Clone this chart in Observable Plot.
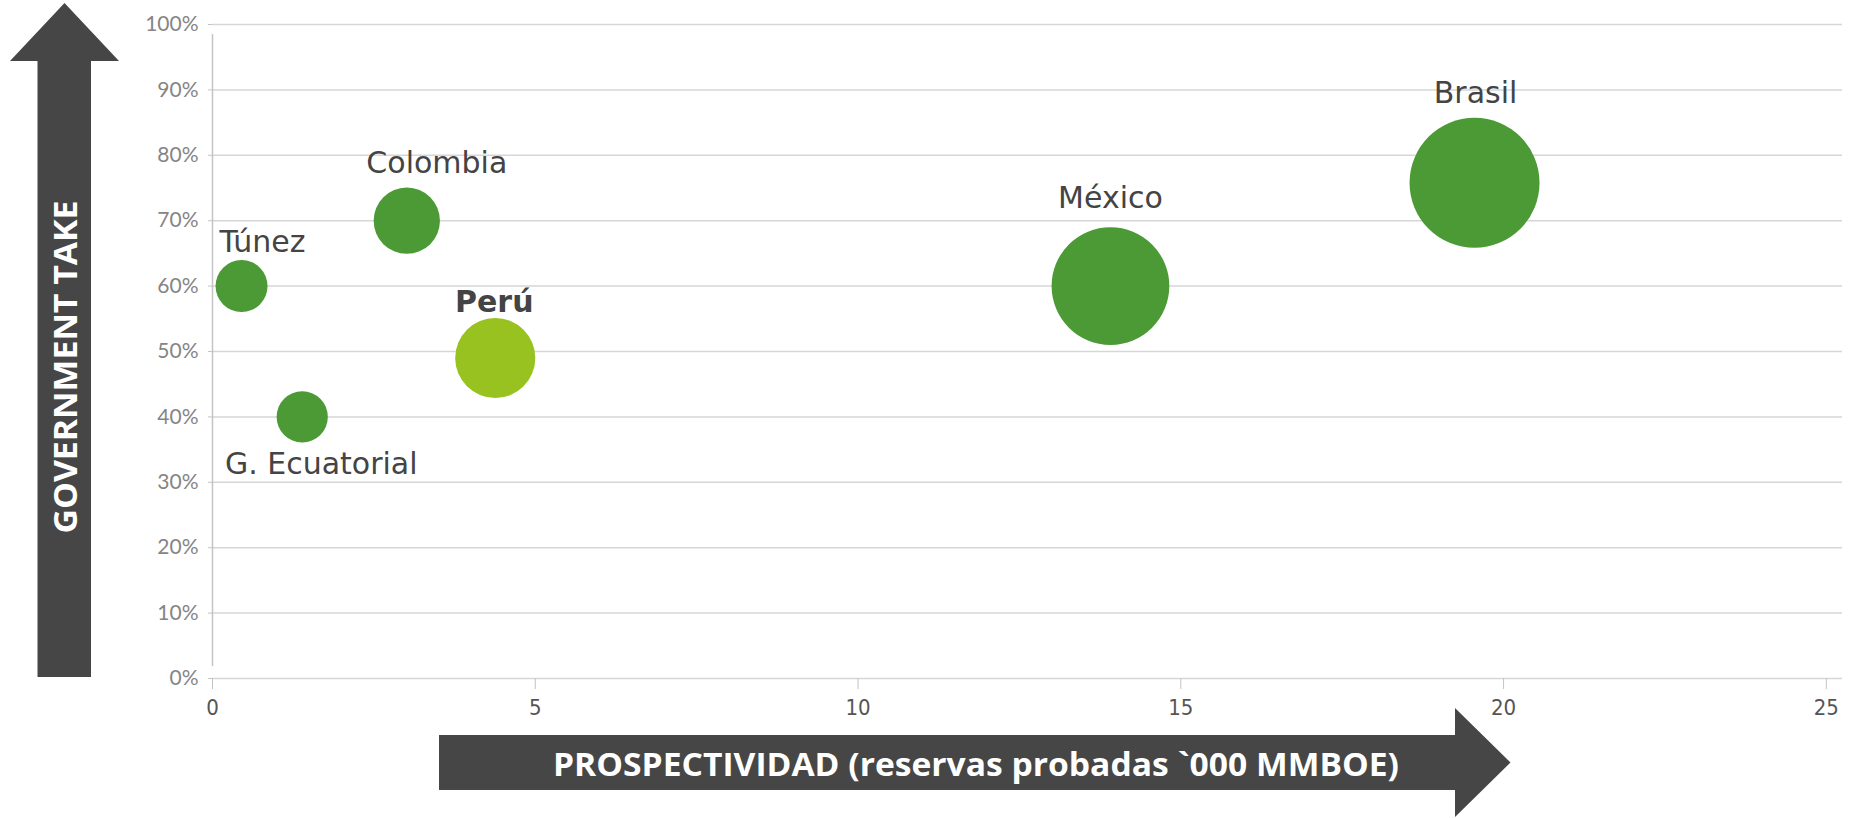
<!DOCTYPE html>
<html>
<head>
<meta charset="utf-8">
<script src="https://cdn.jsdelivr.net/npm/d3@7"></script>
<script src="https://cdn.jsdelivr.net/npm/@observablehq/plot@0.6"></script>
<style>
  html, body { margin: 0; padding: 0; background: #ffffff; }
  #chart { width: 1851px; height: 818px; overflow: hidden; }
  #chart svg { display: block; overflow: visible; }
</style>
</head>
<body>
<div id="chart"></div>
<script>
// ---- data ----
const countries = ["Túnez", "G. Ecuatorial", "Colombia", "Perú", "México", "Brasil"];
const reserves = [0.45, 1.39, 3.01, 4.38, 13.91, 19.55];        // x: reservas probadas ('000 MMBOE)
const governmentTake = [0.60, 0.40, 0.70, 0.49, 0.60, 0.758];   // y: government take
const bubbleSize = [1.6, 1.55, 2.6, 3.8, 8.2, 10];              // relative bubble size
const highlight = ["no", "no", "no", "sí", "no", "no"];
const xTicks = [0, 5, 10, 15, 20, 25];
const yTicks = [0, 0.1, 0.2, 0.3, 0.4, 0.5, 0.6, 0.7, 0.8, 0.9, 1.0];
const xTitle = "PROSPECTIVIDAD (reservas probadas `000 MMBOE)";
const yTitle = "GOVERNMENT TAKE";

const rows = countries.map((name, i) => ({
  name, x: reserves[i], y: governmentTake[i], size: bubbleSize[i], hl: highlight[i]
}));

// label placement (pixel offsets from bubble centre)
const labelOffset = {
  "Túnez": [21, -44], "G. Ecuatorial": [19, 47], "Colombia": [30, -57],
  "Perú": [-1, -56], "México": [0, -88], "Brasil": [1, -89]
};

const GREEN = "#4b9a35", LIME = "#98c21f", GRID = "#d6d6d6", AXIS = "#c4c4c4";

const labelMarks = rows.map(d => Plot.text([d], {
  x: "x", y: "y", text: "name",
  dx: labelOffset[d.name][0], dy: labelOffset[d.name][1],
  fontSize: 30, fontFamily: "DejaVu Sans",
  fontWeight: d.hl === "sí" ? "bold" : "normal",
  fill: "#444444"
}));

const chart = Plot.plot({
  width: 1851, height: 818,
  marginLeft: 212, marginRight: 9, marginTop: 24, marginBottom: 140,
  style: { background: "#ffffff", overflow: "visible" },
  x: { domain: [0, 25.25] },
  y: { domain: [0, 1] },
  r: { type: "sqrt", domain: [0, 10], range: [0, 65] },
  color: { domain: ["no", "sí"], range: [GREEN, LIME] },
  marks: [
    Plot.gridY(yTicks, { stroke: GRID, strokeOpacity: 1, strokeWidth: 1.5 }),
    Plot.ruleX([0], { y1: 0, y2: 1, insetTop: -12, insetBottom: -10, stroke: AXIS, strokeWidth: 1.5 }),
    Plot.axisY(yTicks, {
      tickFormat: d3.format(".0%"), tickSize: 4, tickPadding: 10,
      stroke: AXIS, fill: "#858585", fontSize: 21, fontFamily: "Lato, sans-serif", label: null
    }),
    Plot.axisX(xTicks, {
      tickSize: 11, tickPadding: 10,
      stroke: AXIS, fill: "#555555", fontSize: 22,
      fontFamily: "'DejaVu Sans Condensed', 'Liberation Sans Narrow', sans-serif", label: null
    }),
    Plot.dot(rows, { x: "x", y: "y", r: "size", fill: "hl", stroke: "none" }),
    ...labelMarks
  ]
});

document.getElementById("chart").appendChild(chart);

// ---- decorative axis arrows ----
const svg = d3.select(chart);
const ARROW = "#464646";
const arrows = svg.append("g").attr("class", "arrows");

// vertical arrow (Government take)
arrows.append("path")
  .attr("d", "M37.5,677 L37.5,61 L10,61 L64.5,3 L119,61 L91,61 L91,677 Z")
  .attr("fill", ARROW);
arrows.append("text")
  .attr("transform", "translate(64.5,367) rotate(-90)")
  .attr("text-anchor", "middle")
  .attr("dominant-baseline", "central")
  .attr("font-family", "Open Sans, sans-serif")
  .attr("font-weight", "bold")
  .attr("font-size", 33)
  .attr("textLength", 333)
  .attr("lengthAdjust", "spacingAndGlyphs")
  .attr("fill", "#ffffff")
  .text(yTitle);

// horizontal arrow (Prospectividad)
arrows.append("path")
  .attr("d", "M439,735 L1455,735 L1455,708 L1510.5,762.5 L1455,817 L1455,790 L439,790 Z")
  .attr("fill", ARROW);
arrows.append("text")
  .attr("x", 976).attr("y", 763)
  .attr("text-anchor", "middle")
  .attr("dominant-baseline", "central")
  .attr("font-family", "Open Sans, sans-serif")
  .attr("font-weight", "bold")
  .attr("font-size", 33)
  .attr("textLength", 846)
  .attr("lengthAdjust", "spacingAndGlyphs")
  .attr("fill", "#ffffff")
  .text(xTitle);
</script>
</body>
</html>
